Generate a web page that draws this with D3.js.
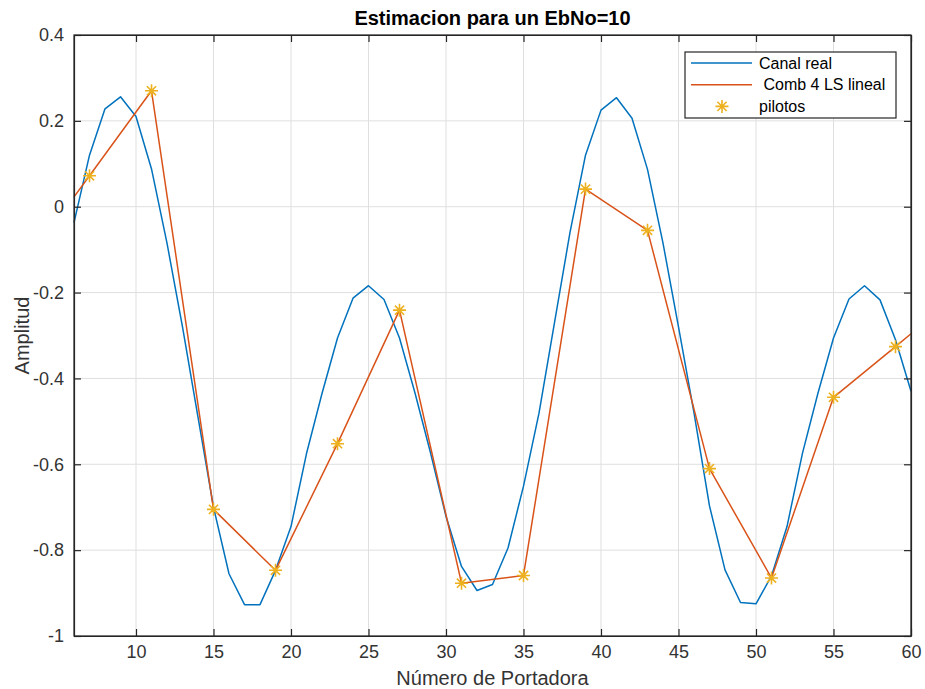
<!DOCTYPE html>
<html>
<head>
<meta charset="utf-8">
<script src="https://cdn.jsdelivr.net/npm/d3@7"></script>
<style>
  body { margin: 0; background: #fff; }
  text { font-family: Arial, "Liberation Sans", Helvetica, sans-serif; }
</style>
</head>
<body>
<div id="chart"></div>
<script>
// datos
const portadoras = d3.range(6, 61);
const canalReal = [
  -0.037, 0.12, 0.228, 0.256, 0.21, 0.088, -0.085, -0.28, -0.49, -0.70,
  -0.855, -0.927, -0.927, -0.847, -0.745, -0.575, -0.435, -0.306, -0.213, -0.184,
  -0.216, -0.306, -0.434, -0.573, -0.721, -0.838, -0.894, -0.880, -0.795, -0.651,
  -0.481, -0.27, -0.06, 0.12, 0.225, 0.254, 0.206, 0.087, -0.085, -0.28,
  -0.48, -0.697, -0.846, -0.922, -0.925, -0.86, -0.745, -0.574, -0.434, -0.306,
  -0.215, -0.184, -0.217, -0.31, -0.43
];
const pilotosX = [7, 11, 15, 19, 23, 27, 31, 35, 39, 43, 47, 51, 55, 59];
const pilotosY = [0.072, 0.27, -0.705, -0.847, -0.552, -0.241, -0.877, -0.859, 0.041, -0.055, -0.61, -0.865, -0.444, -0.326];
// estimacion lineal (Comb 4 LS), vertices de la poligonal
const estimX = [6, 7, 11, 15, 19, 23, 27, 31, 35, 39, 43, 47, 51, 55, 59, 60];
const estimY = [0.023, 0.072, 0.27, -0.705, -0.847, -0.552, -0.241, -0.877, -0.859, 0.041, -0.055, -0.61, -0.865, -0.444, -0.326, -0.296];
const xTicks = [10, 15, 20, 25, 30, 35, 40, 45, 50, 55, 60];
const yTicks = [0.4, 0.2, 0, -0.2, -0.4, -0.6, -0.8, -1];
const leyenda = ["Canal real", " Comb 4 LS lineal", "pilotos"];

const W = 925, H = 689;
const margin = {top: 35, right: 14, bottom: 53, left: 74};
const iw = W - margin.left - margin.right;
const ih = H - margin.top - margin.bottom;

const colBlue = "#0072BD", colRed = "#D95319", colYellow = "#EDB120";
const axisCol = "#262626", gridCol = "#dfdfdf";

const svg = d3.select("#chart").append("svg")
    .attr("width", W)
    .attr("height", H)
    .style("background-color", "#fff");

const g = svg.append("g").attr("transform", `translate(${margin.left},${margin.top})`);

const x = d3.scaleLinear().domain([6, 60]).range([0, iw]);
const y = d3.scaleLinear().domain([-1, 0.4]).range([ih, 0]);

// grid
g.append("g").selectAll("line").data(xTicks).enter().append("line")
    .attr("x1", d => x(d)).attr("x2", d => x(d))
    .attr("y1", 0).attr("y2", ih)
    .attr("stroke", gridCol).attr("stroke-width", 1);
g.append("g").selectAll("line").data(yTicks).enter().append("line")
    .attr("x1", 0).attr("x2", iw)
    .attr("y1", d => y(d)).attr("y2", d => y(d))
    .attr("stroke", gridCol).attr("stroke-width", 1);

// series
const line = d3.line().x(d => x(d[0])).y(d => y(d[1]));

g.append("path")
    .datum(portadoras.map((p, i) => [p, canalReal[i]]))
    .attr("d", line)
    .attr("fill", "none")
    .attr("stroke", colBlue)
    .attr("stroke-width", 1.5)
    .attr("stroke-linejoin", "round");

g.append("path")
    .datum(estimX.map((p, i) => [p, estimY[i]]))
    .attr("d", line)
    .attr("fill", "none")
    .attr("stroke", colRed)
    .attr("stroke-width", 1.5)
    .attr("stroke-linejoin", "round");

// asterisco estilo matlab
function asterisk(r) {
    const d = r * Math.SQRT1_2;
    return `M${-r},0L${r},0M0,${-r}L0,${r}M${-d},${-d}L${d},${d}M${-d},${d}L${d},${-d}`;
}

g.append("g").selectAll("path")
    .data(pilotosX.map((p, i) => [p, pilotosY[i]]))
    .enter().append("path")
    .attr("transform", d => `translate(${x(d[0])},${y(d[1])})`)
    .attr("d", asterisk(6.5))
    .attr("stroke", colYellow)
    .attr("stroke-width", 1.6)
    .attr("fill", "none");

// ejes
const fmt = d => String(d);
g.append("g").attr("transform", `translate(0,${ih})`)
    .call(d3.axisBottom(x).tickValues(xTicks).tickFormat(fmt).tickSizeInner(-7).tickSizeOuter(0).tickPadding(9));
g.append("g")
    .call(d3.axisLeft(y).tickValues(yTicks).tickFormat(fmt).tickSizeInner(-7).tickSizeOuter(0).tickPadding(10));
g.append("g")
    .call(d3.axisTop(x).tickValues(xTicks).tickFormat("").tickSizeInner(-7).tickSizeOuter(0));
g.append("g").attr("transform", `translate(${iw},0)`)
    .call(d3.axisRight(y).tickValues(yTicks).tickFormat("").tickSizeInner(-7).tickSizeOuter(0));

g.selectAll(".domain").attr("stroke", axisCol).attr("stroke-width", 1.2);
g.selectAll(".tick line").attr("stroke", axisCol).attr("stroke-width", 1.2);
g.selectAll(".tick text").attr("fill", "#333").style("font-size", "18px");

// marco
g.append("rect")
    .attr("width", iw).attr("height", ih)
    .attr("fill", "none").attr("stroke", axisCol).attr("stroke-width", 1.2);

// textos
svg.append("text")
    .attr("x", margin.left + iw / 2).attr("y", 25)
    .attr("text-anchor", "middle")
    .style("font-size", "20px").style("font-weight", "bold")
    .attr("fill", "#000")
    .text("Estimacion para un EbNo=10");

svg.append("text")
    .attr("x", margin.left + iw / 2).attr("y", 685)
    .attr("text-anchor", "middle")
    .style("font-size", "20px")
    .attr("fill", "#333")
    .text("Número de Portadora");

svg.append("text")
    .attr("transform", `translate(29,${margin.top + ih / 2}) rotate(-90)`)
    .attr("text-anchor", "middle")
    .style("font-size", "20px")
    .attr("fill", "#333")
    .text("Amplitud");

// leyenda
const lg = svg.append("g").attr("transform", "translate(685,52)");
lg.append("rect")
    .attr("width", 211).attr("height", 66)
    .attr("fill", "#fff").attr("stroke", axisCol).attr("stroke-width", 1.2);

const items = lg.selectAll("g.item").data(leyenda).enter().append("g")
    .attr("class", "item")
    .attr("transform", (d, i) => `translate(0,${11 + i * 21.7})`);

items.filter((d, i) => i < 2).append("line")
    .attr("x1", 6).attr("x2", 67)
    .attr("stroke", (d, i) => i === 0 ? colBlue : colRed)
    .attr("stroke-width", 1.5);
items.filter((d, i) => i === 2).append("path")
    .attr("transform", "translate(37,0)")
    .attr("d", asterisk(6.5))
    .attr("stroke", colYellow).attr("stroke-width", 1.6).attr("fill", "none");

items.append("text")
    .attr("x", 74).attr("dy", "0.35em")
    .style("font-size", "16px")
    .style("white-space", "pre")
    .attr("xml:space", "preserve")
    .attr("fill", "#000")
    .text(d => d);
</script>
</body>
</html>
